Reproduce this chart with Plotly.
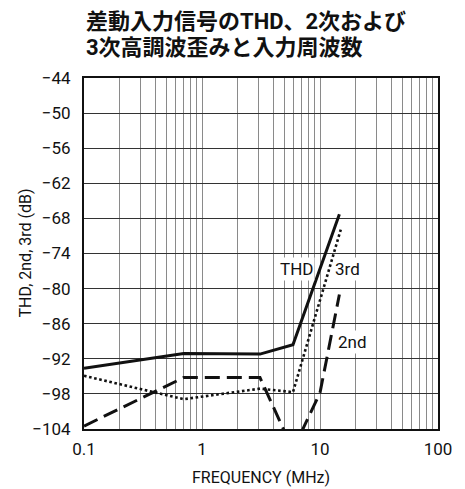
import math
import plotly.graph_objects as go

# Frequency (MHz) and distortion (dB) for each curve
freq_thd = [0.1, 0.7, 3.1, 5.9, 14.6]
thd_db = [-93.6, -91.1, -91.2, -89.6, -67.3]

freq_3rd = [0.1, 0.7, 3.1, 5.9, 15.0]
third_db = [-94.9, -98.9, -97.1, -97.7, -69.9]

freq_2nd = [0.1, 0.7, 3.1, 5.9, 10.0, 14.6]
second_db = [-103.5, -95.2, -95.2, -107.6, -97.8, -81.0]

# Log-axis grid positions and labels
x_grid = [m * 10 ** e for e in (-1, 0, 1) for m in range(1, 10)] + [100]
decade_text = {0.1: "0.1", 1: "1", 10: "10", 100: "100"}
x_labels = [decade_text.get(v, "") for v in x_grid]
y_ticks = list(range(-104, -43, 6))

# Curve labels: text, frequency, level
curve_labels = [("THD", 6.26, -76.6), ("3rd", 17.0, -76.7), ("2nd", 19.0, -89.2)]

title_lines = ["差動入力信号のTHD、2次および", "3次高調波歪みと入力周波数"]
x_title = "FREQUENCY (MHz)"
y_title = "THD, 2nd, 3rd (dB)"

FONT = "Roboto, Noto Sans CJK JP, sans-serif"

W, H = 465, 489
L, R, T, B = 84, 27, 78, 60
plot_w = W - L - R
plot_h = H - T - B

fig = go.Figure()
fig.add_trace(go.Scatter(x=freq_thd, y=thd_db, mode="lines",
                         line=dict(color="#111", width=3), name="THD"))
fig.add_trace(go.Scatter(x=freq_3rd, y=third_db, mode="lines",
                         line=dict(color="#111", width=2.6, dash="2.6px,2.6px"), name="3rd"))
fig.add_trace(go.Scatter(x=freq_2nd, y=second_db, mode="lines",
                         line=dict(color="#111", width=3, dash="15px,7px"), name="2nd"))

for text, fx, fy in curve_labels:
    fig.add_annotation(x=math.log10(fx), y=fy, text=text, showarrow=False,
                       font=dict(family=FONT, size=17, color="#111"),
                       xanchor="center", yanchor="middle", bgcolor="white")

# Two-line bold heading, left-aligned with the plot frame
for i, line in enumerate(title_lines):
    fig.add_annotation(xref="paper", yref="paper", x=0.0, xanchor="left",
                       y=1 + (T - 22 - 25.5 * i) / plot_h, yanchor="middle",
                       text="<b>" + line + "</b>", showarrow=False,
                       font=dict(family=FONT, size=22, color="#111"))

# Axis captions
fig.add_annotation(xref="paper", yref="paper", x=-(L - 25) / plot_w, xanchor="center",
                   y=0.5, yanchor="middle", textangle=-90, text=y_title, showarrow=False,
                   font=dict(family=FONT, size=16, color="#111"))
fig.add_annotation(xref="paper", yref="paper", x=0.5, xanchor="center",
                   y=-(477 - (T + plot_h)) / plot_h, yanchor="middle", text=x_title,
                   showarrow=False, font=dict(family=FONT, size=16, color="#111"))

fig.update_layout(
    width=W, height=H,
    margin=dict(l=L, r=R, t=T, b=B, autoexpand=False),
    paper_bgcolor="white", plot_bgcolor="white",
    showlegend=False,
    font=dict(family=FONT, size=16, color="#111"),
)
fig.update_xaxes(
    type="log", range=[-1, 2], automargin=False,
    tickvals=x_grid, ticktext=x_labels, ticks="",
    showgrid=True, gridcolor="#8a8a8a", gridwidth=1.3,
    showline=True, linecolor="#111", linewidth=2, mirror=True,
    tickfont=dict(size=17), ticklabelstandoff=4,
)
fig.update_yaxes(
    range=[-104, -44], tickvals=y_ticks, ticks="", automargin=False,
    showgrid=True, gridcolor="#333", gridwidth=1.3,
    showline=True, linecolor="#111", linewidth=2, mirror=True,
    tickfont=dict(size=17), ticklabelstandoff=8,
    zeroline=False,
)

fig.write_html("out.html")
